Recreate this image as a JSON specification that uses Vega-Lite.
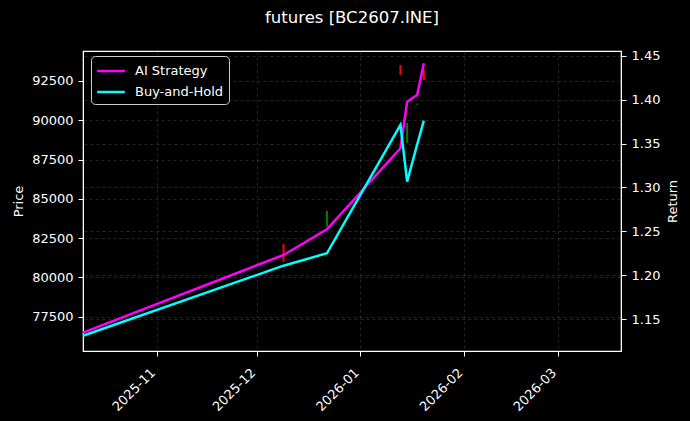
{
  "$schema": "https://vega.github.io/schema/vega-lite/v6.json",
  "autosize": "none",
  "width": 538,
  "height": 300,
  "padding": {"left": 83, "top": 51, "right": 69, "bottom": 70},
  "background": "black",
  "config": {
    "font": "DejaVu Sans",
    "view": {"stroke": "white", "strokeWidth": 1.2, "fill": "black"},
    "axis": {
      "labelColor": "white", "titleColor": "white", "domainColor": "white", "tickColor": "white",
      "labelFontSize": 13, "titleFontSize": 13, "titleFontWeight": "normal",
      "tickSize": 5, "labelPadding": 5,
      "gridColor": "#666", "gridDash": [3, 3], "gridOpacity": 0.5, "gridWidth": 0.7
    }
  },
  "title": {"text": "futures [BC2607.INE]", "color": "white", "fontSize": 16.5, "fontWeight": "normal", "offset": 23, "anchor": "middle", "frame": "group"},
  "datasets": {
    "returns": [
      {"date": "2025-10-10", "series": "AI Strategy", "ret": 1.1348},
      {"date": "2025-12-09", "series": "AI Strategy", "ret": 1.2232},
      {"date": "2025-12-22", "series": "AI Strategy", "ret": 1.2524},
      {"date": "2026-01-13", "series": "AI Strategy", "ret": 1.3446},
      {"date": "2026-01-15", "series": "AI Strategy", "ret": 1.3976},
      {"date": "2026-01-18", "series": "AI Strategy", "ret": 1.4053},
      {"date": "2026-01-20", "series": "AI Strategy", "ret": 1.4413},
      {"date": "2025-10-10", "series": "Buy-and-Hold", "ret": 1.1313},
      {"date": "2025-12-09", "series": "Buy-and-Hold", "ret": 1.2110},
      {"date": "2025-12-22", "series": "Buy-and-Hold", "ret": 1.2251},
      {"date": "2026-01-13", "series": "Buy-and-Hold", "ret": 1.3711},
      {"date": "2026-01-15", "series": "Buy-and-Hold", "ret": 1.3066},
      {"date": "2026-01-18", "series": "Buy-and-Hold", "ret": 1.3489},
      {"date": "2026-01-20", "series": "Buy-and-Hold", "ret": 1.3760}
    ],
    "candles": [
      {"date": "2025-12-09", "low": 81000, "high": 82130, "dir": "down"},
      {"date": "2025-12-22", "low": 83230, "high": 84230, "dir": "up"},
      {"date": "2026-01-13", "low": 92890, "high": 93520, "dir": "down"},
      {"date": "2026-01-15", "low": 88560, "high": 89830, "dir": "up"},
      {"date": "2026-01-18", "low": 90990, "high": 91050, "dir": "up"},
      {"date": "2026-01-20", "low": 92570, "high": 93200, "dir": "down"}
    ]
  },
  "encoding": {
    "x": {
      "field": "date", "type": "temporal",
      "scale": {"type": "utc", "domain": [{"year": 2025, "month": 10, "date": 10, "utc": true}, {"year": 2026, "month": 3, "date": 20, "utc": true}], "nice": false},
      "axis": {
        "title": null,
        "labelExpr": "utcFormat(datum.value, '%Y-%m')",
        "values": [
          {"year": 2025, "month": 11, "date": 1, "utc": true},
          {"year": 2025, "month": 12, "date": 1, "utc": true},
          {"year": 2026, "month": 1, "date": 1, "utc": true},
          {"year": 2026, "month": 2, "date": 1, "utc": true},
          {"year": 2026, "month": 3, "date": 1, "utc": true}
        ],
        "labelAngle": -45, "labelAlign": "right", "labelBaseline": "top", "labelOffset": -8, "labelPadding": 10, "grid": true, "labelFontSize": 13
      }
    }
  },
  "layer": [
    {
      "data": {"name": "candles"},
      "mark": {"type": "rule", "strokeWidth": 2},
      "encoding": {
        "y": {
          "field": "low", "type": "quantitative",
          "scale": {"domain": [75317, 94409], "nice": false, "zero": false},
          "axis": {"orient": "left", "title": "Price", "values": [77500, 80000, 82500, 85000, 87500, 90000, 92500], "format": "d", "grid": true, "titlePadding": 6}
        },
        "y2": {"field": "high"},
        "color": {"field": "dir", "type": "nominal", "scale": {"domain": ["down", "up"], "range": ["#ff0000", "#008000"]}, "legend": null}
      }
    },
    {
      "data": {"name": "returns"},
      "mark": {"type": "line", "strokeWidth": 2.5},
      "encoding": {
        "y": {
          "field": "ret", "type": "quantitative",
          "scale": {"domain": [1.1139, 1.4553], "nice": false, "zero": false},
          "axis": {"orient": "right", "title": "Return", "titleAngle": 270, "values": [1.15, 1.2, 1.25, 1.3, 1.35, 1.4, 1.45], "format": ".2f", "grid": true, "titlePadding": 20}
        },
        "color": {
          "field": "series", "type": "nominal",
          "scale": {"domain": ["AI Strategy", "Buy-and-Hold"], "range": ["#ff00ff", "#00ffff"]},
          "legend": {
            "title": null, "orient": "none", "legendX": 8, "legendY": 5,
            "fillColor": "black", "strokeColor": "#cccccc", "cornerRadius": 4, "padding": 5,
            "symbolType": "M-1.6,0H1.6", "symbolSize": 300, "symbolStrokeWidth": 2.5, "symbolOffset": 5,
            "labelColor": "white", "labelFontSize": 13, "labelOffset": 14, "rowPadding": 4
          }
        }
      }
    }
  ],
  "resolve": {"scale": {"y": "independent", "color": "independent"}, "legend": {"color": "independent"}}
}
